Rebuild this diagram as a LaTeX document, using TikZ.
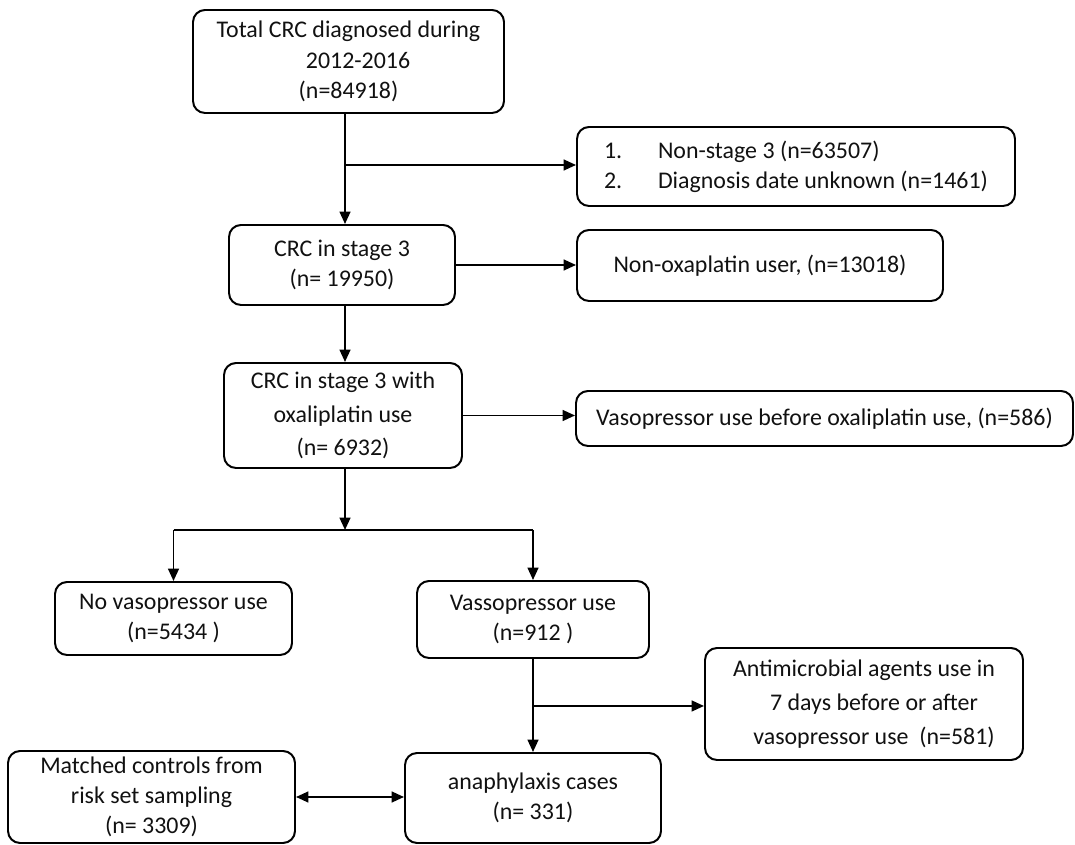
\documentclass[tikz,border=0pt]{standalone}
\usepackage{fontspec}
\setmainfont{Carlito}
\setsansfont{Carlito}
\usetikzlibrary{arrows.meta, calc}

\begin{document}
\begin{tikzpicture}[
    every node/.style={font=\sffamily},
]

% ---------------------------------------------------------------- colours
\definecolor{edgecolor}{HTML}{000000}   % boxes and arrows
\definecolor{textcolor}{HTML}{111111}

% ---------------------------------------------------------------- styles
\tikzset{
    box/.style={draw=edgecolor, line width=1.4pt, rounded corners=0.3cm,
                fill=white, inner sep=0pt, align=center, text=textcolor,
                font=\sffamily\fontsize{17}{21.5}\selectfont},
    widebox/.style={box, font=\sffamily\fontsize{17}{24}\selectfont},
    flow/.style={-{Triangle[length=0.31cm, width=0.27cm]}, line width=1.4pt,
                 edgecolor},
    link/.style={line width=1.4pt, edgecolor},
    both/.style={{Triangle[length=0.31cm, width=0.27cm]}-{Triangle[length=0.31cm,
                 width=0.27cm]}, line width=1.4pt, edgecolor},
}

% ================================================================
% 1 cm = 40 px of the 1075 x 844 page, origin at the bottom left.
% ================================================================
\useasboundingbox (0, 0) rectangle (26.875, 21.1);

% ----------------------------------------------------------------------
% main column
% ----------------------------------------------------------------------
\node[box, minimum width=7.775cm, minimum height=2.575cm] (total)
    at (8.7125, 19.5625)
    {Total CRC diagnosed during\\ \hspace*{0.8em}2012-2016\\(n=84918)};

\node[box, minimum width=5.65cm, minimum height=2.0cm] (stage3)
    at (8.55, 14.475) {CRC in stage 3\\(n= 19950)};

\node[widebox, minimum width=5.95cm, minimum height=2.625cm] (oxali)
    at (8.575, 10.7125) {CRC in stage 3 with\\oxaliplatin use\\(n= 6932)};

% ----------------------------------------------------------------------
% exclusions on the right
% ----------------------------------------------------------------------
\node[box, minimum width=10.95cm, minimum height=1.975cm, align=left]
    (excl) at (19.9, 16.9375)
    {\makebox[1.35cm][l]{1.}Non-stage 3 (n=63507)\\
     \makebox[1.35cm][l]{2.}Diagnosis date unknown (n=1461)};

\node[box, minimum width=9.15cm, minimum height=1.775cm] (nonox)
    at (19.0, 14.4625) {Non-oxaplatin user, (n=13018)};

\node[box, minimum width=12.425cm, minimum height=1.375cm] (vbefore)
    at (20.6125, 10.6375) {Vasopressor use before oxaliplatin use, (n=586)};

% ----------------------------------------------------------------------
% the two arms
% ----------------------------------------------------------------------
\node[box, minimum width=5.925cm, minimum height=1.825cm] (novaso)
    at (4.3375, 5.6375) {No vasopressor use\\(n=5434 )};

\node[box, minimum width=5.8cm, minimum height=1.925cm] (vassop)
    at (13.325, 5.6125) {Vassopressor use\\(n=912 )};

\node[widebox, minimum width=7.95cm, minimum height=2.8cm] (antim)
    at (21.6, 3.5)
    {Antimicrobial agents use in\\ \hspace*{0.5cm}7 days before or after\\
     \hspace*{0.5cm}vasopressor use~~(n=581)};

\node[box, minimum width=6.4cm, minimum height=2.25cm] (anaph)
    at (13.325, 1.15) {anaphylaxis cases\\(n= 331)};

\node[box, minimum width=7.175cm, minimum height=2.3cm] (matched)
    at (3.7875, 1.175) {Matched controls from\\risk set sampling\\(n= 3309)};

% ----------------------------------------------------------------------
% connectors
% ----------------------------------------------------------------------
% the trunk runs at x = 8.625, a little off the box centres
\coordinate (j1) at (8.625, 16.975);
\coordinate (j2) at (8.625, 7.85);
\path (vassop.south) ++(0, -1.175) coordinate (j3);

\draw[flow] (total.south -| j1) -- (j1 |- stage3.north);
\draw[flow] (j1) -- (j1 -| excl.west);

\draw[flow] (stage3.east) -- (stage3.east -| nonox.west);
\draw[flow] (stage3.south -| j1) -- (j1 |- oxali.north);
\draw[flow] (oxali.east) -- (oxali.east -| vbefore.west);

% split into the two arms
\draw[flow] (oxali.south -| j2) -- (j2);
\draw[link] (novaso.north |- j2) -- (vassop.north |- j2);
\draw[flow] (novaso.north |- j2) -- (novaso.north);
\draw[flow] (vassop.north |- j2) -- (vassop.north);

\draw[flow] (vassop.south) -- (anaph.north);
\draw[flow] (j3) -- (j3 -| antim.west);

\draw[both] (matched.east) -- (matched.east -| anaph.west);

\end{tikzpicture}
\end{document}
